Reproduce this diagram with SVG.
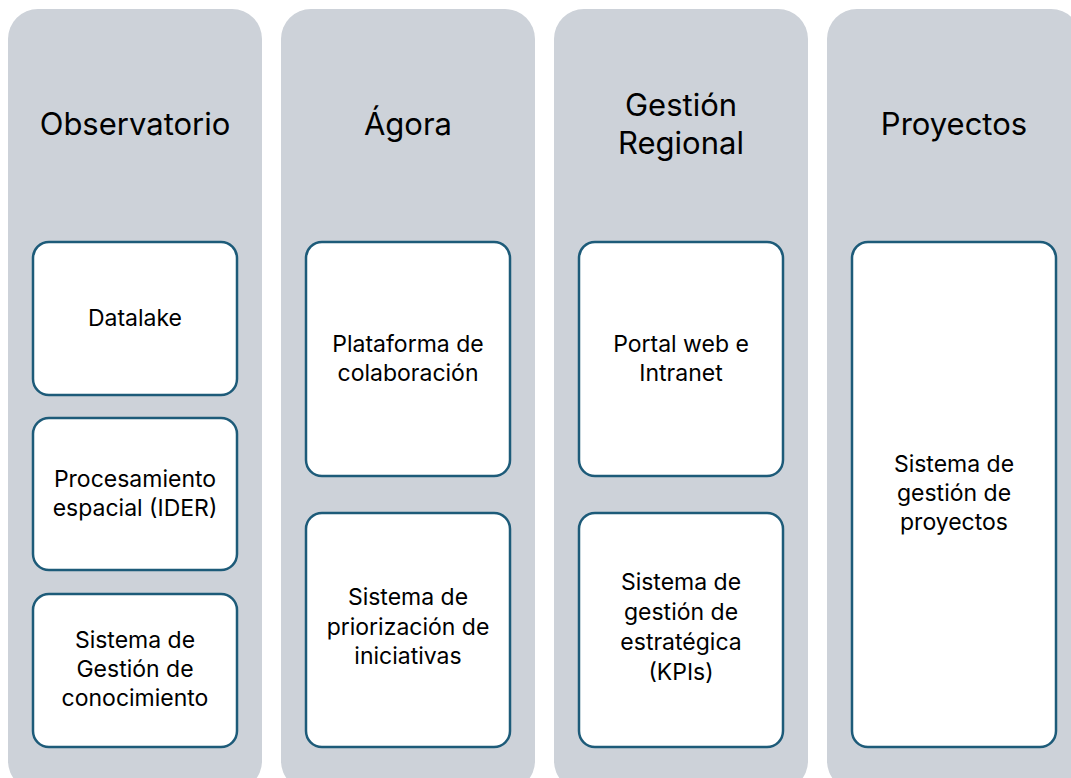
<svg xmlns="http://www.w3.org/2000/svg" width="1071" height="778" viewBox="0 0 1071 778">
<style>
.col{fill:#cdd2d9;}
.box{fill:#ffffff;stroke:#1d5b79;stroke-width:2.5;}
.t{font-family:Inter,"Open Sans","Liberation Sans",Arial,sans-serif;fill:#000;text-anchor:middle;}
.h{font-size:31px;}
.b{font-size:23px;}
</style>
<rect width="1071" height="778" fill="#ffffff"/>
<g id="col-observatorio">
<rect class="col" x="8" y="9" width="254" height="782" rx="30"/>
<text class="t h" x="135" y="135">Observatorio</text>
</g>
<g id="col-agora">
<rect class="col" x="281" y="9" width="254" height="782" rx="30"/>
<text class="t h" x="408" y="135">Ágora</text>
</g>
<g id="col-gestion">
<rect class="col" x="554" y="9" width="254" height="782" rx="30"/>
<text class="t h" x="681" y="116">Gestión</text>
<text class="t h" x="681" y="154">Regional</text>
</g>
<g id="col-proyectos">
<rect class="col" x="827" y="9" width="254" height="782" rx="30"/>
<text class="t h" x="954" y="135">Proyectos</text>
</g>
<g id="n-datalake">
<rect class="box" x="33" y="242" width="204" height="153" rx="16"/>
<text class="t b" x="135" y="326">Datalake</text>
</g>
<g id="n-procesamiento">
<rect class="box" x="33" y="418" width="204" height="152" rx="16"/>
<text class="t b" x="135" y="487">Procesamiento</text>
<text class="t b" x="135" y="516">espacial (IDER)</text>
</g>
<g id="n-conocimiento">
<rect class="box" x="33" y="594" width="204" height="153" rx="16"/>
<text class="t b" x="135" y="648">Sistema de</text>
<text class="t b" x="135" y="677">Gestión de</text>
<text class="t b" x="135" y="706">conocimiento</text>
</g>
<g id="n-colaboracion">
<rect class="box" x="306" y="242" width="204" height="234" rx="16"/>
<text class="t b" x="408" y="352">Plataforma de</text>
<text class="t b" x="408" y="381">colaboración</text>
</g>
<g id="n-priorizacion">
<rect class="box" x="306" y="513" width="204" height="234" rx="16"/>
<text class="t b" x="408" y="605">Sistema de</text>
<text class="t b" x="408" y="635">priorización de</text>
<text class="t b" x="408" y="664">iniciativas</text>
</g>
<g id="n-portal">
<rect class="box" x="579" y="242" width="204" height="234" rx="16"/>
<text class="t b" x="681" y="352">Portal web e</text>
<text class="t b" x="681" y="381">Intranet</text>
</g>
<g id="n-kpis">
<rect class="box" x="579" y="513" width="204" height="234" rx="16"/>
<text class="t b" x="681" y="590">Sistema de</text>
<text class="t b" x="681" y="620">gestión de</text>
<text class="t b" x="681" y="650">estratégica</text>
<text class="t b" x="681" y="680">(KPIs)</text>
</g>
<g id="n-proyectos">
<rect class="box" x="852" y="242" width="204" height="505" rx="16"/>
<text class="t b" x="954" y="472">Sistema de</text>
<text class="t b" x="954" y="501">gestión de</text>
<text class="t b" x="954" y="530">proyectos</text>
</g>
<g id="connectors"></g>
</svg>
